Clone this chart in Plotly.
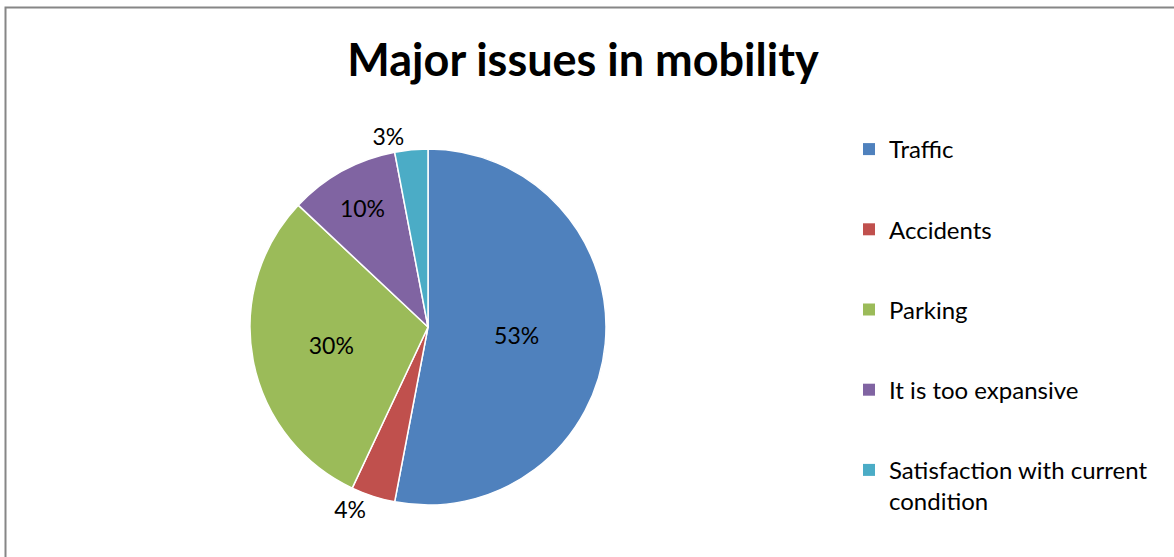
import plotly.graph_objects as go

# Survey results: major issues in mobility
categories = ["Traffic", "Accidents", "Parking", "It is too expansive",
              "Satisfaction with current condition"]
shares = [53, 4, 30, 10, 3]
legend_labels = ["Traffic", "Accidents", "Parking", "It is too expansive",
                 "Satisfaction with current<br>condition"]
colors = ["#4F81BD", "#C0504D", "#9BBB59", "#8064A2", "#4BACC6"]
text_positions = ["inside", "outside", "inside", "inside", "outside"]

FONT = "Lato, Carlito, Calibri, sans-serif"
W, H = 1174, 557

fig = go.Figure()

fig.add_trace(go.Pie(
    labels=categories,
    values=shares,
    sort=False,
    direction="clockwise",
    rotation=0,
    marker=dict(colors=colors, line=dict(color="white", width=1.5)),
    texttemplate="%{percent:.0%}",
    textposition=text_positions,
    insidetextorientation="horizontal",
    textfont=dict(family=FONT, size=23, color="black"),
    showlegend=False,
    hoverinfo="label+percent",
    domain=dict(x=[(428 - 178) / W, (428 + 178) / W],
                y=[(H - 327 - 178) / H, (H - 327 + 178) / H]),
))

# Legend keys, one group per category so their spacing can be set
for lab, col in zip(legend_labels, colors):
    fig.add_trace(go.Scatter(
        x=[None], y=[None], mode="markers", name=lab, legendgroup=lab,
        marker=dict(symbol="square", size=12, color=col),
        showlegend=True, hoverinfo="skip",
    ))

fig.update_layout(
    width=W, height=H,
    margin=dict(l=0, r=0, t=0, b=0),
    paper_bgcolor="white",
    plot_bgcolor="white",
    xaxis=dict(visible=False),
    yaxis=dict(visible=False),
    font=dict(family=FONT, color="black"),
    title=dict(text="<b>Major issues in mobility</b>",
               x=583 / W, xanchor="center",
               y=1 - 60 / H, yanchor="middle",
               font=dict(family=FONT, size=45, color="black")),
    legend=dict(x=849 / W, xanchor="left",
                y=1 - 127 / H, yanchor="top",
                font=dict(family=FONT, size=24, color="black"),
                tracegroupgap=46, valign="top",
                bgcolor="rgba(0,0,0,0)", borderwidth=0),
    shapes=[dict(type="path", xref="paper", yref="paper",
                 path=f"M 1.01,{1 - 7.5 / H} L {5.5 / W},{1 - 7.5 / H} L {5.5 / W},-0.01",
                 line=dict(color="#868686", width=2))],
)

fig.write_html("out.html")
